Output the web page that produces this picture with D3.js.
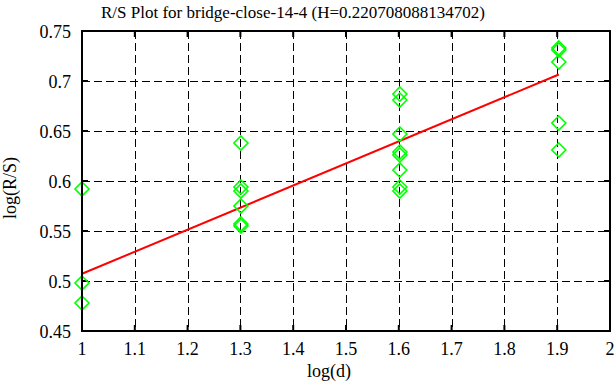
<!DOCTYPE html>
<html>
<head>
<meta charset="utf-8">
<script src="https://cdnjs.cloudflare.com/ajax/libs/d3/7.8.5/d3.min.js"></script>
<style>
  body { margin: 0; background: #fff; }
  text { font-family: "Liberation Serif", "Times New Roman", serif; font-size: 18px; fill: #000; }
</style>
</head>
<body>
<div id="chart"></div>
<script>
var width = 616, height = 387;
var margin = {left: 82, right: 6, top: 31, bottom: 56};

// log(d) for d = 10, 20, 40, 80
var xs = [1, 1.30103, 1.60206, 1.90309];
// log(R/S) values per x group
var ys = [
  [0.592, 0.498, 0.478],
  [0.638, 0.594, 0.590, 0.575, 0.557, 0.555],
  [0.687, 0.681, 0.647, 0.629, 0.626, 0.611, 0.594, 0.590],
  [0.733, 0.731, 0.719, 0.658, 0.631]
];
var slope = 0.220708088134702;
var intercept = 0.2865;
var xTicks = [1, 1.1, 1.2, 1.3, 1.4, 1.5, 1.6, 1.7, 1.8, 1.9, 2];
var yTicks = [0.45, 0.5, 0.55, 0.6, 0.65, 0.7, 0.75];

var svg = d3.select("#chart").append("svg")
  .attr("width", width)
  .attr("height", height);

var x = d3.scaleLinear().domain([1, 2]).range([margin.left, width - margin.right]);
var y = d3.scaleLinear().domain([0.45, 0.75]).range([height - margin.bottom, margin.top]);

// grid
svg.selectAll("line.gx").data(xTicks.slice(1, -1)).enter().append("line")
  .attr("x1", function(d){ return Math.round(x(d)) + 0.5; })
  .attr("x2", function(d){ return Math.round(x(d)) + 0.5; })
  .attr("y1", y(0.75)).attr("y2", y(0.45))
  .attr("stroke", "#000").attr("stroke-dasharray", "8,4");
svg.selectAll("line.gy").data(yTicks.slice(1, -1)).enter().append("line")
  .attr("y1", function(d){ return Math.round(y(d)) + 0.5; })
  .attr("y2", function(d){ return Math.round(y(d)) + 0.5; })
  .attr("x1", x(1)).attr("x2", x(2))
  .attr("stroke", "#000").attr("stroke-dasharray", "8,4");

// ticks on all four sides
var tk = 6;
xTicks.forEach(function(t){
  svg.append("line").attr("x1", x(t)).attr("x2", x(t)).attr("y1", y(0.45)).attr("y2", y(0.45) - tk).attr("stroke", "#000").attr("stroke-width", 2);
  svg.append("line").attr("x1", x(t)).attr("x2", x(t)).attr("y1", y(0.75)).attr("y2", y(0.75) + tk).attr("stroke", "#000").attr("stroke-width", 2);
});
yTicks.forEach(function(t){
  svg.append("line").attr("y1", y(t)).attr("y2", y(t)).attr("x1", x(1)).attr("x2", x(1) + tk).attr("stroke", "#000").attr("stroke-width", 2);
  svg.append("line").attr("y1", y(t)).attr("y2", y(t)).attr("x1", x(2)).attr("x2", x(2) - tk).attr("stroke", "#000").attr("stroke-width", 2);
});

// tick labels
svg.selectAll("text.xl").data(xTicks).enter().append("text")
  .attr("x", function(d){ return x(d); })
  .attr("y", 355)
  .attr("text-anchor", "middle")
  .text(function(d){ return d3.format("")(+d.toFixed(1)); });
svg.selectAll("text.yl").data(yTicks).enter().append("text")
  .attr("x", 71)
  .attr("y", function(d){ return y(d) + 7; })
  .attr("text-anchor", "end")
  .text(function(d){ return d3.format("")(+d.toFixed(2)); });

// fit line
svg.append("line")
  .attr("x1", x(xs[0])).attr("y1", y(intercept + slope * xs[0]))
  .attr("x2", x(xs[3])).attr("y2", y(intercept + slope * xs[3]))
  .attr("stroke", "#ff0000").attr("stroke-width", 2);

// points
var pts = [];
xs.forEach(function(xv, i){
  ys[i].forEach(function(yv){ pts.push({x: xv, y: yv}); });
});
var r = 7;
svg.selectAll("polygon").data(pts).enter().append("polygon")
  .attr("points", "0," + (-r) + " " + r + ",0 0," + r + " " + (-r) + ",0")
  .attr("transform", function(d){ return "translate(" + x(d.x) + "," + y(d.y) + ")"; })
  .attr("fill", "none")
  .attr("stroke", "#00ff00")
  .attr("stroke-width", 1.6);

// frame
svg.append("rect")
  .attr("x", x(1)).attr("y", y(0.75))
  .attr("width", x(2) - x(1)).attr("height", y(0.45) - y(0.75))
  .attr("fill", "none").attr("stroke", "#000").attr("stroke-width", 2);

// titles
svg.append("text").attr("x", 293).attr("y", 18).attr("text-anchor", "middle")
  .style("font-size", "17px")
  .text("R/S Plot for bridge-close-14-4 (H=0.220708088134702)");
svg.append("text").attr("x", 329).attr("y", 377).attr("text-anchor", "middle")
  .text("log(d)");
svg.append("text").attr("transform", "translate(16,188) rotate(-90)")
  .attr("text-anchor", "middle")
  .text("log(R/S)");
</script>
</body>
</html>
